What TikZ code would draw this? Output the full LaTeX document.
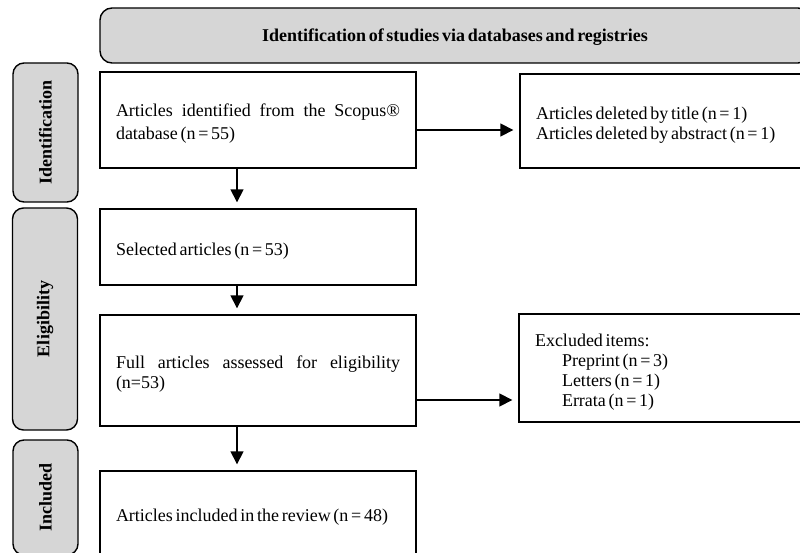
\documentclass[tikz,border=0pt]{standalone}
\usepackage{fontspec}
\setmainfont{Liberation Serif}[WordSpace=0.6]
\usetikzlibrary{arrows.meta}
\definecolor{lblgray}{HTML}{D6D6D6}
\tikzset{
  box/.style={draw, line width=1.4pt, rectangle, inner xsep=16pt, inner ysep=0pt, align=justify, font=\fontsize{18}{20}\selectfont, execute at begin node={\rule{0pt}{20pt}}},
  side/.style={draw, line width=1.4pt, rounded corners=11pt, fill=lblgray, minimum width=65pt, inner sep=0pt},
  sidetext/.style={rotate=90, font=\fontsize{18}{20}\selectfont\bfseries},
  arr/.style={line width=1.6pt, -{Triangle[length=13pt,width=13pt]}, shorten >=6pt},
}
\begin{document}
\begin{tikzpicture}[x=1pt, y=-1pt]
\useasboundingbox (0,0) rectangle (800,553);
\clip (0,0) rectangle (800,553);
% header
\node[side, minimum width=710pt, minimum height=55pt, rounded corners=12pt] (hdr) at (455,35.5) {};
\node[font=\fontsize{18}{20}\selectfont\bfseries] (hdrt) at (455,37.5) {Identification of studies via databases and registries};
% side labels
\node[side, minimum height=139pt] (l1) at (45.5,132.5) {};
\node[sidetext] (l1t) at (45.5,132.5) {Identification};
\node[side, minimum height=222pt] (l2) at (45,319) {};
\node[sidetext] (l2t) at (45,319) {Eligibility};
\node[side, minimum height=115pt] (l3) at (45.5,497.5) {};
\node[sidetext] (l3t) at (45.5,497.5) {Included};
% main boxes
\node[box, text width=284pt, minimum height=96pt, font=\fontsize{18}{23}\selectfont] (b1) at (258,120) {Articles identified from the Scopus® database (n = 55)};
\node[box, text width=284pt, minimum height=76pt] (b2) at (258,247) {Selected articles (n = 53)};
\node[box, text width=284pt, minimum height=111pt] (b3) at (258,370.5) {Full articles assessed for eligibility (n=53)};
\node[box, text width=284pt, minimum height=84pt] (b4) at (258,513) {Articles included in the review (n = 48)};
% right boxes
\node[box, text width=258pt, minimum height=94pt] (r1) at (665,121) {Articles deleted by title (n = 1)\\Articles deleted by abstract (n = 1)};
\node[box, text width=259pt, minimum height=108pt] (r2) at (664.5,368) {Excluded items:\\\hspace*{27pt}Preprint (n = 3)\\\hspace*{27pt}Letters (n = 1)\\\hspace*{27pt}Errata (n = 1)};
% connectors
\coordinate (ax) at (237,0);
\coordinate (ay1) at (0,130);
\coordinate (ay2) at (0,400);
\draw[arr] (b1.south -| ax) -- (b2.north -| ax);
\draw[arr] (b2.south -| ax) -- (b3.north -| ax);
\draw[arr] (b3.south -| ax) -- (b4.north -| ax);
\draw[arr] (b1.east |- ay1) -- (r1.west |- ay1);
\draw[arr] (b3.east |- ay2) -- (r2.west |- ay2);
\end{tikzpicture}
\end{document}
